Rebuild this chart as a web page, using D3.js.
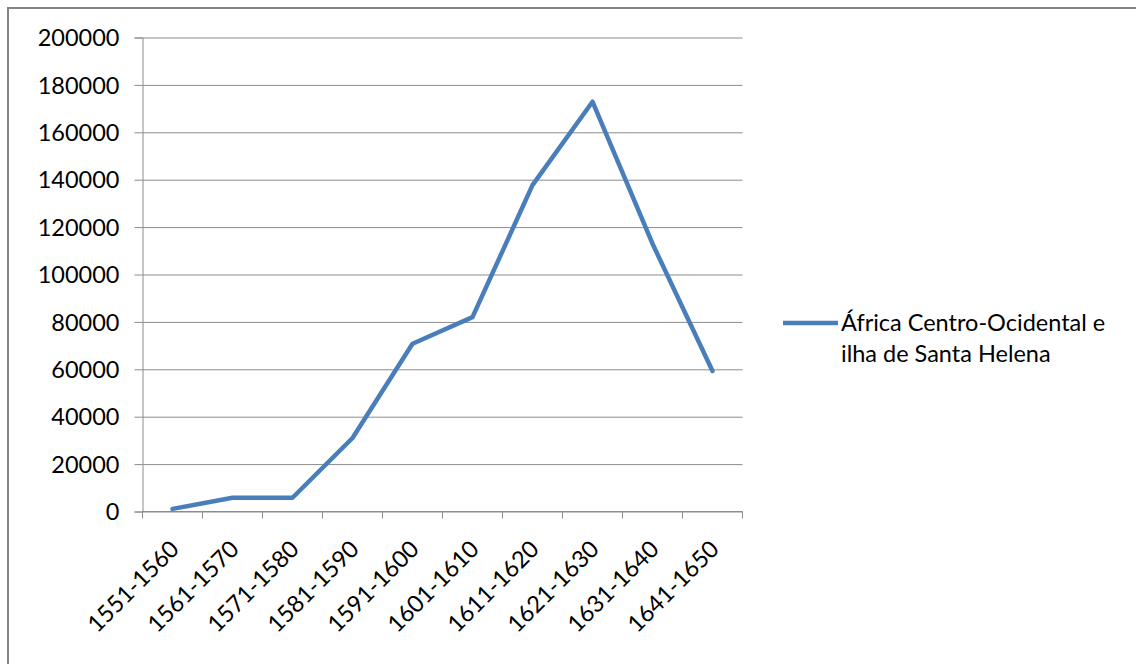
<!DOCTYPE html>
<html>
<head>
<meta charset="utf-8">
<script src="https://cdn.jsdelivr.net/npm/d3@7/dist/d3.min.js"></script>
<style>
  html, body { margin: 0; padding: 0; background: #fff; }
  svg { display: block; }
  text { font-family: Lato, "Open Sans", sans-serif; fill: #000; }
</style>
</head>
<body>
<svg id="chart" width="1136" height="664"></svg>
<script>
// Decades of the series
const periods = ["1551-1560", "1561-1570", "1571-1580", "1581-1590", "1591-1600",
                 "1601-1610", "1611-1620", "1621-1630", "1631-1640", "1641-1650"];
// Estimated numbers per decade
const counts = [1100, 5800, 5800, 31000, 70800, 82000, 137700, 172900, 113000, 59300];
// Y-axis tick values
const yTicks = [0, 20000, 40000, 60000, 80000, 100000, 120000, 140000, 160000, 180000, 200000];
const seriesName = ["África Centro-Ocidental e", "ilha de Santa Helena"];

const svg = d3.select("#chart");
const W = 1136, H = 664;
const plotL = 142.5, plotR = 742.5, plotT = 37.5, plotB = 511.5;
const gridColor = "#8c8c8c";
const lineColor = "#4a7ebb";
const fontSize = 23.5;

svg.append("rect").attr("width", W).attr("height", H).attr("fill", "#fff");

// Outer frame (top and left edges visible)
svg.append("path")
  .attr("d", `M8,${H + 5}V8H${W + 5}`)
  .attr("fill", "none").attr("stroke", "#858585").attr("stroke-width", 2);

const x = d3.scaleBand().domain(periods).range([plotL, plotR]).paddingInner(0).paddingOuter(0);
const y = d3.scaleLinear().domain([0, 200000]).range([plotB, plotT]);

// Horizontal gridlines with left tick marks
const yAxis = d3.axisLeft(y).tickValues(yTicks).tickSize(8).tickPadding(15).tickFormat(d3.format("d"));
const yg = svg.append("g").attr("transform", `translate(${plotL},0)`).call(yAxis);
yg.select(".domain").attr("stroke", gridColor);
yg.selectAll(".tick line").attr("stroke", gridColor);
yg.selectAll(".tick").append("line")
  .attr("x1", 0).attr("x2", plotR - plotL)
  .attr("stroke", gridColor).attr("stroke-width", 1);
yg.selectAll(".tick text")
  .style("font-size", fontSize + "px").style("font-family", "Lato, sans-serif")
  .attr("fill", "#000").attr("dy", "0.35em");

// X axis: ticks at category boundaries
const xg = svg.append("g").attr("transform", `translate(0,${plotB})`);
xg.append("line").attr("x1", plotL).attr("x2", plotR).attr("stroke", gridColor);
const bounds = periods.map(p => x(p)).concat([x(periods[periods.length - 1]) + x.bandwidth()]);
xg.selectAll("line.tk").data(bounds).enter().append("line").attr("class", "tk")
  .attr("x1", d => d).attr("x2", d => d).attr("y1", 0).attr("y2", 7)
  .attr("stroke", gridColor);

// Rotated category labels
xg.selectAll("text.cat").data(periods).enter().append("text").attr("class", "cat")
  .attr("transform", d => `translate(${x(d) + x.bandwidth() / 2 + 8},${39}) rotate(-45)`)
  .attr("text-anchor", "end")
  .style("font-size", fontSize + "px")
  .text(d => d);

// Series line
const line = d3.line()
  .x((d, i) => x(periods[i]) + x.bandwidth() / 2)
  .y(d => y(d));
svg.append("path").datum(counts)
  .attr("d", line)
  .attr("fill", "none").attr("stroke", lineColor)
  .attr("stroke-width", 4.5).attr("stroke-linejoin", "round").attr("stroke-linecap", "round");

// Legend
const lg = svg.append("g").attr("transform", "translate(783,323)");
lg.append("line").attr("x1", 0).attr("x2", 55).attr("y1", 0).attr("y2", 0)
  .attr("stroke", lineColor).attr("stroke-width", 4.5);
lg.selectAll("text").data(seriesName).enter().append("text")
  .attr("x", 58).attr("y", (d, i) => 8 + i * 31)
  .style("font-size", fontSize + "px")
  .text(d => d);
</script>
</body>
</html>
